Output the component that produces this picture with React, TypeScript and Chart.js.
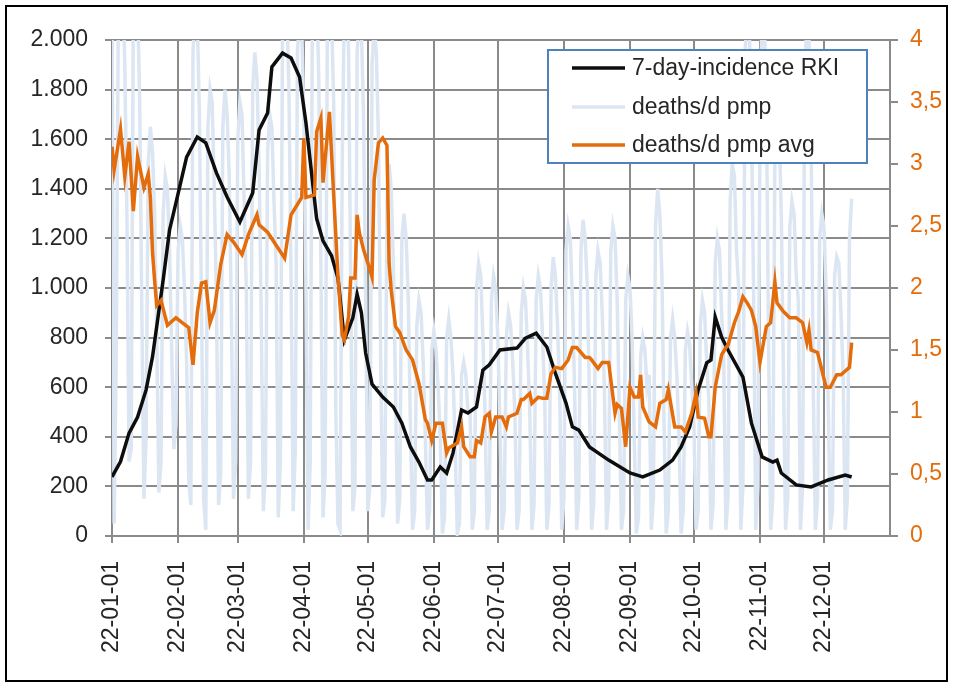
import React, { useEffect, useRef } from 'react';
import { Chart, registerables } from 'chart.js';

Chart.register(...registerables);

// x axis: day of year 2022 (0 = 2022-01-01)
const monthTickDays = [0, 31, 59, 90, 120, 151, 181, 212, 243, 273, 304, 334];
const monthTickLabels = ['22-01-01', '22-02-01', '22-03-01', '22-04-01', '22-05-01', '22-06-01',
  '22-07-01', '22-08-01', '22-09-01', '22-10-01', '22-11-01', '22-12-01'];

// 7-day incidence RKI (left axis)
const incidenceDays = [0, 4, 8, 12, 16, 19, 24, 27, 30, 35, 40, 44, 49, 54, 60, 66, 69, 73, 75, 80, 84, 88, 91, 96,
  99, 103, 106, 107, 109, 113, 115, 117, 119, 122, 127, 132, 136, 140, 144, 148, 150, 154, 157, 160, 164, 167, 171,
  174, 177, 182, 190, 194, 199, 204, 208, 213, 216, 219, 224, 233, 243, 249, 257, 263, 267, 271, 275, 279, 281, 283,
  286, 289, 296, 300, 305, 310, 312, 314, 321, 328, 336, 344, 347];
const incidenceValues = [238, 300, 415, 480, 589, 722, 1032, 1234, 1343, 1528, 1609, 1585, 1464, 1367, 1266, 1383, 1637,
  1706, 1891, 1947, 1927, 1851, 1665, 1280, 1190, 1130, 1040, 960, 790, 880, 975, 900, 738, 612, 560, 520, 455, 359,
  298, 226, 226, 278, 254, 335, 508, 496, 520, 669, 690, 750, 758, 798, 818, 762, 657, 536, 440, 427, 359, 306, 254,
  238, 266, 306, 359, 440, 589, 698, 710, 883, 802, 750, 641, 455, 319, 298, 306, 254, 206, 198, 226, 246, 238];

// deaths per day per million (right axis), one value per day from day 0
const deathsPerDay = [
  4.4, 0.1, 1.5, 4.3, 4.6, 4.5, 3.8,
  2.6, 0.6, 0.7, 4.2, 4.5, 4.3, 3.5,
  1.8, 0.3, 0.8, 3.0, 3.3, 3.1, 2.6,
  1.6, 0.35, 0.6, 2.6, 2.9, 2.8, 2.3,
  1.5, 0.7, 0.9, 2.3, 2.5, 2.4, 2.0,
  1.4, 0.45, 0.25, 3.9, 4.3, 4.2, 3.4,
  1.8, 0.3, 0.05, 3.3, 3.6, 3.5, 2.8,
  1.9, 0.25, 0.5, 3.3, 3.6, 3.4, 2.9,
  1.8, 0.3, 0.6, 3.2, 3.5, 3.4, 2.7,
  2.0, 0.3, 0.6, 3.6, 3.9, 3.7, 3.0,
  1.8, 0.2, 0.5, 3.1, 3.4, 3.3, 2.7,
  2.2, 0.15, 0.6, 4.1, 4.4, 4.3, 3.6,
  2.1, 0.2, 0.7, 3.9, 4.2, 4.1, 3.4,
  2.0, 0.05, 0.6, 4.2, 4.5, 4.4, 3.7,
  2.2, 0.15, 0.5, 4.0, 4.3, 4.2, 3.5,
  1.0, 0.1, 0.05, 3.0, 4.3, 4.4, 3.9,
  2.0, 0.2, 0.4, 3.9, 4.2, 4.1, 3.4,
  1.9, 0.2, 0.4, 3.8, 4.1, 3.9, 3.2,
  1.5, 0.15, 0.3, 2.7, 3.0, 2.8, 2.2,
  1.2, 0.1, 0.3, 2.4, 2.6, 2.4, 1.9,
  0.9, 0.05, 0.2, 1.7, 1.9, 1.8, 1.4,
  0.8, 0.05, 0.2, 1.5, 1.65, 1.5, 1.2,
  0.8, 0.02, 0.15, 1.6, 1.75, 1.6, 1.3,
  0.7, 0.02, 0.1, 1.3, 1.4, 1.3, 1.0,
  1.0, 0.05, 0.2, 2.0, 2.2, 2.1, 1.6,
  1.0, 0.05, 0.2, 1.9, 2.1, 2.0, 1.6,
  0.9, 0.05, 0.2, 1.6, 1.8, 1.7, 1.4,
  1.0, 0.05, 0.2, 1.8, 2.0, 1.9, 1.5,
  1.0, 0.05, 0.25, 1.9, 2.1, 2.0, 1.6,
  1.1, 0.05, 0.25, 2.0, 2.25, 2.1, 1.7,
  1.2, 0.05, 0.3, 2.3, 2.5, 2.4, 1.9,
  1.2, 0.05, 0.3, 2.3, 2.55, 2.4, 2.0,
  1.1, 0.05, 0.25, 2.1, 2.3, 2.2, 1.8,
  1.2, 0.05, 0.3, 2.3, 2.5, 2.4, 1.9,
  1.0, 0.05, 0.2, 1.9, 2.1, 2.0, 1.6,
  0.8, 0.02, 0.15, 1.45, 1.6, 1.5, 1.2,
  1.3, 0.05, 0.3, 2.5, 2.8, 2.6, 2.1,
  0.9, 0.02, 0.2, 1.6, 1.75, 1.6, 1.3,
  0.8, 0.02, 0.2, 1.5, 1.65, 1.55, 1.2,
  0.9, 0.05, 0.2, 1.7, 1.9, 1.8, 1.4,
  1.1, 0.05, 0.25, 2.2, 2.4, 2.3, 1.8,
  1.4, 0.05, 0.3, 2.7, 3.0, 2.9, 2.3,
  2.0, 0.05, 0.4, 3.9, 4.2, 4.1, 3.3,
  2.0, 0.05, 0.4, 3.2, 4.3, 4.2, 3.5,
  1.6, 0.05, 0.3, 3.1, 3.4, 3.3, 2.6,
  1.3, 0.05, 0.3, 2.5, 2.7, 2.6, 2.1,
  1.9, 0.05, 0.4, 3.8, 4.1, 4.0, 3.2,
  1.2, 0.05, 0.3, 2.4, 2.6, 2.5, 2.0,
  1.1, 0.05, 0.2, 2.1, 2.25, 2.2, 1.8,
  1.3, 0.05, 0.3, 2.4, 2.72,
];

// deaths per day per million, average (right axis)
const deathsAvgDays = [0, 1, 4, 6, 8, 10, 12, 15, 17, 18, 19, 20, 21, 23, 26, 30, 36, 38, 40, 42, 44, 46, 48, 51, 54,
  57, 61, 64, 68, 69, 73, 81, 84, 89, 90, 91, 95, 96, 98, 99, 102, 104, 106, 108, 109, 111, 112, 114, 115, 116, 118,
  121, 122, 123, 125, 127, 129, 130, 131, 133, 135, 138, 141, 144, 147, 148, 150, 152, 155, 157, 158, 162, 164, 165,
  168, 170, 171, 173, 175, 177, 178, 180, 183, 185, 186, 190, 192, 193, 196, 197, 200, 202, 204, 206, 208, 211, 214,
  216, 218, 222, 224, 225, 228, 230, 233, 236, 237, 239, 241, 243, 245, 247, 248, 249, 252, 255, 257, 260, 261, 264,
  267, 269, 272, 274, 275, 278, 280, 281, 283, 286, 288, 289, 292, 294, 296, 298, 300, 302, 304, 307, 309, 311, 312,
  315, 318, 321, 324, 326, 327, 328, 331, 335, 337, 340, 342, 346, 347];
const deathsAvgValues = [3.14, 2.95, 3.28, 2.9, 3.18, 2.62, 3.06, 2.81, 2.92, 2.73, 2.29, 2.06, 1.86, 1.9, 1.7, 1.76,
  1.68, 1.38, 1.8, 2.04, 2.05, 1.72, 1.82, 2.19, 2.43, 2.37, 2.27, 2.43, 2.59, 2.51, 2.45, 2.24, 2.59, 2.73, 3.21, 2.73,
  2.75, 3.26, 3.37, 2.85, 3.42, 2.75, 2.1, 1.62, 1.58, 1.77, 2.08, 2.08, 2.59, 2.45, 2.31, 2.15, 2.09, 2.87, 3.17, 3.21,
  3.15, 2.2, 1.98, 1.69, 1.64, 1.5, 1.42, 1.23, 0.94, 0.91, 0.77, 0.91, 0.91, 0.67, 0.71, 0.75, 0.88, 0.72, 0.64, 0.64,
  0.77, 0.75, 0.96, 0.99, 0.84, 0.96, 0.96, 0.88, 0.96, 0.99, 1.1, 1.1, 1.15, 1.07, 1.12, 1.11, 1.11, 1.31, 1.36, 1.35,
  1.42, 1.52, 1.52, 1.44, 1.44, 1.42, 1.35, 1.4, 1.4, 0.99, 1.06, 1.03, 0.72, 1.2, 1.12, 1.12, 1.3, 1.04, 0.92, 0.88,
  1.07, 1.1, 1.18, 0.88, 0.88, 0.84, 0.99, 1.15, 0.96, 0.95, 0.8, 0.8, 1.2, 1.46, 1.52, 1.54, 1.72, 1.81, 1.93, 1.88,
  1.82, 1.69, 1.4, 1.69, 1.72, 2.05, 1.88, 1.81, 1.76, 1.76, 1.72, 1.56, 1.66, 1.5, 1.48, 1.2, 1.2, 1.3, 1.3, 1.36, 1.56];

const seriesNames = ['7-day-incidence RKI', 'deaths/d pmp', 'deaths/d pmp avg'];

const FONT = 'Liberation Sans, Arial, sans-serif';
const GRID = '#8a8a8a';
const BLACK = '#0d0d0d';
const LIGHT = '#dce6f2';
const ORANGE = '#e46c0a';

function fmtLeft(v: number): string {
  if (v >= 1000) return Math.floor(v / 1000) + '.' + String(v % 1000).padStart(3, '0');
  return String(v);
}

export default function App() {
  const ref = useRef<HTMLCanvasElement | null>(null);

  useEffect(() => {
    if (!ref.current) return;

    const framePlugin = {
      id: 'frameAndLegend',
      afterDraw(chart: any) {
        const ctx = chart.ctx;
        ctx.save();
        // outer frame
        ctx.strokeStyle = '#000';
        ctx.lineWidth = 2;
        ctx.strokeRect(6, 6, 941, 675);
        // legend box
        ctx.fillStyle = '#fff';
        ctx.fillRect(548, 50, 319, 113);
        ctx.strokeStyle = '#4f81bd';
        ctx.lineWidth = 2;
        ctx.strokeRect(548, 50, 319, 113);
        const colors = [BLACK, LIGHT, ORANGE];
        const rows = [68, 107, 145];
        ctx.font = '23px ' + FONT;
        ctx.textBaseline = 'middle';
        ctx.textAlign = 'left';
        for (let i = 0; i < 3; i++) {
          ctx.strokeStyle = colors[i];
          ctx.lineWidth = 3.5;
          ctx.beginPath();
          ctx.moveTo(572, rows[i]);
          ctx.lineTo(625, rows[i]);
          ctx.stroke();
          ctx.fillStyle = '#262626';
          ctx.fillText(seriesNames[i], 632, rows[i] + 1);
        }
        ctx.restore();
      },
    };

    const chart = new Chart(ref.current, {
      type: 'line',
      data: {
        datasets: [
          {
            label: seriesNames[2],
            data: deathsAvgDays.map((d, i) => ({ x: d, y: deathsAvgValues[i] })),
            yAxisID: 'y1',
            borderColor: ORANGE,
            borderWidth: 3.5,
            pointRadius: 0,
            tension: 0,
            order: 0,
          },
          {
            label: seriesNames[0],
            data: incidenceDays.map((d, i) => ({ x: d, y: incidenceValues[i] })),
            yAxisID: 'y',
            borderColor: BLACK,
            borderWidth: 3.5,
            pointRadius: 0,
            tension: 0,
            order: 1,
          },
          {
            label: seriesNames[1],
            data: deathsPerDay.map((v, i) => ({ x: i, y: v })),
            yAxisID: 'y1',
            borderColor: LIGHT,
            borderWidth: 3.5,
            pointRadius: 0,
            tension: 0,
            order: 2,
          },
        ],
      },
      options: {
        responsive: false,
        animation: false,
        devicePixelRatio: 1,
        layout: { padding: { top: 40, left: 0, right: 0, bottom: 0 } },
        plugins: {
          legend: { display: false },
          tooltip: { enabled: false },
        },
        scales: {
          x: {
            type: 'linear',
            min: 0,
            max: 365,
            afterBuildTicks: (scale: any) => {
              scale.ticks = monthTickDays.map((v) => ({ value: v }));
            },
            afterFit: (scale: any) => {
              scale.height = 150;
            },
            ticks: {
              autoSkip: false,
              minRotation: 90,
              maxRotation: 90,
              padding: 18,
              color: '#262626',
              font: { family: FONT, size: 23 },
              callback: (v: any) => {
                const idx = monthTickDays.indexOf(Number(v));
                return idx >= 0 ? monthTickLabels[idx] : '';
              },
            },
            grid: { color: GRID, lineWidth: 2, tickLength: 7 },
            border: { color: GRID, width: 2 },
          },
          y: {
            position: 'left',
            min: 0,
            max: 2000,
            afterFit: (scale: any) => {
              scale.width = 112;
            },
            ticks: {
              stepSize: 200,
              padding: 17,
              color: '#262626',
              font: { family: FONT, size: 23 },
              callback: (v: any) => fmtLeft(Number(v)),
            },
            grid: { color: GRID, lineWidth: 2, tickLength: 7 },
            border: { color: GRID, width: 2 },
          },
          y1: {
            position: 'right',
            min: 0,
            max: 4,
            afterFit: (scale: any) => {
              scale.width = 64;
            },
            ticks: {
              stepSize: 0.5,
              padding: 12,
              color: ORANGE,
              font: { family: FONT, size: 23 },
              callback: (v: any) => String(v).replace('.', ','),
            },
            grid: { drawOnChartArea: false, color: GRID, lineWidth: 2, tickLength: 8 },
            border: { color: GRID, width: 2 },
          },
        },
      },
      plugins: [framePlugin],
    });

    return () => chart.destroy();
  }, []);

  return (
    <div style={{ position: 'absolute', left: 0, top: 0, width: 954, height: 686, background: '#fff' }}>
      <canvas ref={ref} width={954} height={686} style={{ display: 'block' }} />
    </div>
  );
}
